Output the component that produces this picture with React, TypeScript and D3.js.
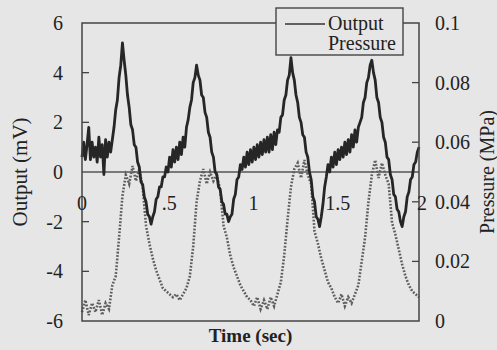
import React from 'react';
import * as d3 from 'd3';

// time axis (s)
const timeTicks = [0, 0.5, 1, 1.5, 2];
const timeTickLabels = ['0', '.5', '1', '1.5', '2'];

// left axis: output (mV)
const outputTicks = [-6, -4, -2, 0, 2, 4, 6];
const outputTickLabels = ['-6', '-4', '-2', '0', '2', '4', '6'];

// right axis: pressure (MPa)
const pressureTicks = [0, 0.02, 0.04, 0.06, 0.08, 0.1];
const pressureTickLabels = ['0', '0.02', '0.04', '0.06', '0.08', '0.1'];

const outputStep = 0.01;
const outputValues = [
  0.6, 1.2, 0.5, 1.1, 1.8, 0.5, 1.2, 0.6, 1.0, 0.4,
  1.4, 0.6, 1.1, -0.1, 1.3, 0.6, 1.2, 0.8, 1.3, 1.8,
  2.5, 2.9, 3.8, 4.3, 5.2, 4.5, 3.9, 3.1, 2.6, 1.9,
  1.7, 1.1, 1.0, 0.4, 0.2, -0.4, -0.5, -1.0, -1.2, -1.7,
  -1.8, -2.1, -1.8, -1.6, -1.1, -1.0, -0.6, -0.6, -0.2, -0.2,
  0.2, 0.0, 0.6, 0.2, 0.9, 0.4, 1.0, 0.5, 1.2, 0.7,
  1.4, 1.0, 1.8, 2.1, 2.6, 2.9, 3.6, 3.8, 4.3, 3.9,
  3.7, 3.1, 3.0, 2.4, 2.2, 1.6, 1.4, 0.8, 0.6, 0.0,
  -0.1, -0.6, -0.7, -1.2, -1.3, -1.7, -1.7, -2.0, -1.8, -1.7,
  -1.1, -0.9, -0.3, -0.2, 0.3, 0.1, 0.6, 0.2, 0.8, 0.3,
  0.9, 0.4, 1.0, 0.5, 1.1, 0.6, 1.2, 0.7, 1.3, 0.8,
  1.4, 0.8, 1.5, 0.9, 1.6, 1.1, 1.7, 1.6, 2.2, 2.3,
  2.9, 3.1, 3.7, 3.9, 4.6, 4.0, 3.7, 3.1, 2.8, 2.2,
  2.0, 1.5, 1.4, 0.8, 0.6, 0.0, -0.3, -1.0, -1.2, -1.8,
  -1.9, -2.2, -1.8, -1.3, -0.6, -0.2, 0.3, 0.0, 0.6, 0.2,
  0.8, 0.3, 0.9, 0.5, 1.0, 0.6, 1.2, 0.7, 1.3, 0.8,
  1.5, 1.0, 1.7, 1.2, 1.8, 2.0, 2.2, 2.8, 3.0, 3.6,
  3.8, 4.3, 4.5, 4.0, 3.7, 3.0, 2.8, 2.2, 2.0, 1.4,
  1.2, 0.6, 0.5, -0.1, -0.3, -0.9, -1.0, -1.5, -1.6, -2.0,
  -2.2, -1.8, -1.6, -1.0, -0.8, -0.3, -0.2, 0.3, 0.4, 0.8,
  1.0,
];

// pressure, sampled every 0.02 s
const pressureStep = 0.02;
const pressureValues = [
  0.003, 0.007, 0.002, 0.006, 0.003, 0.007, 0.002, 0.006, 0.004, 0.012,
  0.015, 0.028, 0.042, 0.049, 0.046, 0.052, 0.047, 0.051, 0.045, 0.032,
  0.026, 0.021, 0.017, 0.014, 0.011, 0.01, 0.009, 0.008, 0.009, 0.007,
  0.009, 0.011, 0.015, 0.025, 0.04, 0.047, 0.051, 0.046, 0.05, 0.047,
  0.049, 0.044, 0.032, 0.028, 0.022, 0.018, 0.015, 0.012, 0.01, 0.008,
  0.007, 0.005, 0.008, 0.004, 0.007, 0.004, 0.008, 0.005, 0.009, 0.013,
  0.022, 0.034, 0.045, 0.051, 0.053, 0.048, 0.054, 0.049, 0.046, 0.03,
  0.026, 0.021, 0.017, 0.013, 0.011, 0.008, 0.006, 0.009, 0.005, 0.008,
  0.006, 0.009, 0.012, 0.02, 0.028, 0.04, 0.049, 0.054, 0.048, 0.053,
  0.049, 0.046, 0.033, 0.029, 0.024, 0.019, 0.015, 0.012, 0.01, 0.009,
  0.008,
];

const W = 497;
const H = 350;
const plot = { left: 82, right: 419, top: 23, bottom: 321 };
const serif = { fontFamily: "'Liberation Serif', 'DejaVu Serif', 'Times New Roman', Times, serif" };
const ink = '#222';
const bg = '#e6e6e6';

export default function App() {
  const x = d3.scaleLinear().domain([0, 2]).range([plot.left, plot.right]);
  const yOut = d3.scaleLinear().domain([-6, 6]).range([plot.bottom, plot.top]);
  const yP = d3.scaleLinear().domain([0, 0.1]).range([plot.bottom, plot.top]);

  const outLine = d3
    .line<number>()
    .x((d, i) => x(i * outputStep))
    .y((d) => yOut(d));
  const pLine = d3
    .line<number>()
    .x((d, i) => x(i * pressureStep))
    .y((d) => yP(d));

  const labelY = yOut(-1.25);

  return (
    <svg width={W} height={H} style={{ position: 'absolute', left: 0, top: 0, background: bg }}>
      {/* zero line */}
      <line x1={plot.left} x2={plot.right} y1={yOut(0)} y2={yOut(0)} stroke="#555" strokeWidth={1.4} />

      {/* pressure, dotted */}
      <path
        d={pLine(pressureValues) || ''}
        fill="none"
        stroke="#5e5e5e"
        strokeWidth={2.6}
        strokeDasharray="1.8 1.6"
      />

      {/* output */}
      <path
        d={outLine(outputValues) || ''}
        fill="none"
        stroke="#262626"
        strokeWidth={2.8}
        strokeLinejoin="round"
      />

      {/* frame */}
      <rect
        x={plot.left}
        y={plot.top}
        width={plot.right - plot.left}
        height={plot.bottom - plot.top}
        fill="none"
        stroke="#444"
        strokeWidth={1.5}
      />

      {/* left ticks + labels */}
      {outputTicks.map((t, i) => (
        <g key={'l' + t}>
          {t !== 0 && Math.abs(t) !== 6 && (
            <line x1={plot.left} x2={plot.left + 7} y1={yOut(t)} y2={yOut(t)} stroke="#444" strokeWidth={1.3} />
          )}
          <text x={63} y={yOut(t)} dy="0.35em" textAnchor="end" fontSize={20} fill={ink} style={serif}>
            {outputTickLabels[i]}
          </text>
        </g>
      ))}

      {/* right ticks + labels */}
      {pressureTicks.map((t, i) => (
        <g key={'r' + t}>
          {t !== 0 && t !== 0.1 && (
            <line x1={plot.right - 7} x2={plot.right} y1={yP(t)} y2={yP(t)} stroke="#444" strokeWidth={1.3} />
          )}
          <text x={435} y={yP(t)} dy="0.35em" textAnchor="start" fontSize={20} fill={ink} style={serif}>
            {pressureTickLabels[i]}
          </text>
        </g>
      ))}

      {/* time labels, drawn inside the plot */}
      {timeTicks.map((t, i) => (
        <text
          key={'x' + t}
          x={x(t) + (t === 0 ? 0 : 3)}
          y={labelY}
          dy="0.35em"
          textAnchor="middle"
          fontSize={20}
          fill={ink}
          style={serif}
        >
          {timeTickLabels[i]}
        </text>
      ))}

      {/* axis titles */}
      <text
        transform={`translate(20,${yOut(0)}) rotate(-90)`}
        dy="0.35em"
        textAnchor="middle"
        fontSize={21}
        fill={ink}
        style={serif}
      >
        Output (mV)
      </text>
      <text
        transform={`translate(487,${yOut(0)}) rotate(-90)`}
        dy="0.35em"
        textAnchor="middle"
        fontSize={20}
        fill={ink}
        style={serif}
      >
        Pressure (MPa)
      </text>
      <text
        x={(plot.left + plot.right) / 2}
        y={342}
        textAnchor="middle"
        fontSize={19}
        fontWeight="bold"
        fill={ink}
        style={serif}
      >
        Time (sec)
      </text>

      {/* legend */}
      <rect x={276} y={8} width={127} height={47} fill={bg} stroke="#444" strokeWidth={1.4} />
      <line x1={285} x2={325} y1={24} y2={24} stroke="#333" strokeWidth={1.6} />
      <text x={328} y={30} fontSize={20} fill={ink} style={serif}>
        Output
      </text>
      <text x={328} y={50} fontSize={20} fill={ink} style={serif}>
        Pressure
      </text>
    </svg>
  );
}
